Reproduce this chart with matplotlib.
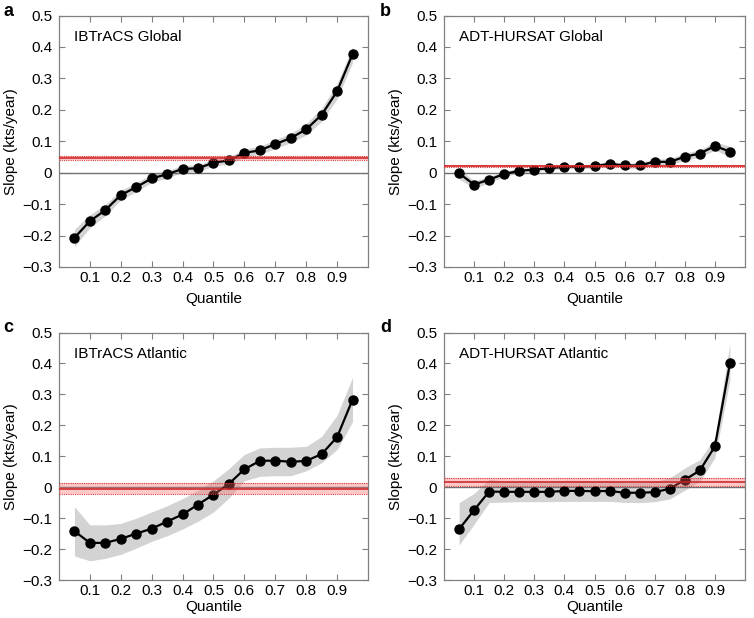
import numpy as np
import matplotlib
matplotlib.use("Agg")
import matplotlib.pyplot as plt

plt.rcParams['font.family'] = ['Liberation Sans', 'DejaVu Sans']

quantiles = [0.05, 0.10, 0.15, 0.20, 0.25, 0.30, 0.35, 0.40, 0.45, 0.50,
             0.55, 0.60, 0.65, 0.70, 0.75, 0.80, 0.85, 0.90, 0.95]

# Panel a: IBTrACS Global
a_slope = [-0.207, -0.154, -0.119, -0.071, -0.046, -0.018, -0.005, 0.012, 0.014, 0.032,
           0.039, 0.063, 0.071, 0.091, 0.110, 0.138, 0.184, 0.259, 0.377]
a_lo = [-0.235, -0.175, -0.137, -0.087, -0.060, -0.031, -0.017, 0.001, 0.003, 0.021,
        0.028, 0.051, 0.058, 0.077, 0.095, 0.120, 0.163, 0.235, 0.350]
a_hi = [-0.180, -0.134, -0.101, -0.056, -0.032, -0.005, 0.007, 0.023, 0.025, 0.043,
        0.050, 0.075, 0.084, 0.105, 0.125, 0.156, 0.205, 0.283, 0.400]
a_mean, a_err = 0.046, 0.006

# Panel b: ADT-HURSAT Global
b_slope = [-0.002, -0.038, -0.022, -0.004, 0.006, 0.010, 0.014, 0.019, 0.019, 0.021,
           0.028, 0.023, 0.023, 0.035, 0.034, 0.051, 0.061, 0.085, 0.067]
b_lo = [-0.020, -0.050, -0.032, -0.012, -0.001, 0.004, 0.008, 0.013, 0.013, 0.014,
        0.020, 0.015, 0.014, 0.026, 0.024, 0.040, 0.049, 0.072, 0.050]
b_hi = [0.012, -0.026, -0.012, 0.004, 0.013, 0.016, 0.020, 0.025, 0.025, 0.028,
        0.036, 0.031, 0.032, 0.044, 0.044, 0.062, 0.073, 0.098, 0.084]
b_mean, b_err = 0.020, 0.003

# Panel c: IBTrACS Atlantic
c_slope = [-0.142, -0.180, -0.180, -0.167, -0.150, -0.134, -0.111, -0.088, -0.056, -0.024,
           0.011, 0.058, 0.085, 0.086, 0.082, 0.085, 0.107, 0.162, 0.283]
c_lo = [-0.222, -0.238, -0.230, -0.217, -0.197, -0.175, -0.157, -0.135, -0.110, -0.080,
        -0.035, 0.021, 0.035, 0.037, 0.037, 0.053, 0.079, 0.122, 0.212]
c_hi = [-0.063, -0.122, -0.122, -0.117, -0.100, -0.080, -0.060, -0.037, -0.010, 0.021,
        0.060, 0.106, 0.127, 0.129, 0.129, 0.132, 0.164, 0.233, 0.355]
c_mean, c_err = -0.005, 0.017

# Panel d: ADT-HURSAT Atlantic
d_slope = [-0.136, -0.074, -0.014, -0.015, -0.015, -0.015, -0.015, -0.012, -0.012, -0.013,
           -0.012, -0.018, -0.018, -0.016, -0.005, 0.024, 0.054, 0.132, 0.400]
d_lo = [-0.187, -0.120, -0.050, -0.048, -0.047, -0.047, -0.047, -0.046, -0.046, -0.046,
        -0.046, -0.049, -0.050, -0.047, -0.038, -0.010, 0.019, 0.095, 0.347]
d_hi = [-0.050, -0.020, 0.025, 0.020, 0.020, 0.020, 0.020, 0.022, 0.022, 0.021,
        0.022, 0.016, 0.016, 0.018, 0.030, 0.062, 0.089, 0.160, 0.465]
d_mean, d_err = 0.018, 0.013

titles = ["IBTrACS Global", "ADT-HURSAT Global", "IBTrACS Atlantic", "ADT-HURSAT Atlantic"]
letters = ["a", "b", "c", "d"]
slopes = [a_slope, b_slope, c_slope, d_slope]
los = [a_lo, b_lo, c_lo, d_lo]
his = [a_hi, b_hi, c_hi, d_hi]
means = [a_mean, b_mean, c_mean, d_mean]
errs = [a_err, b_err, c_err, d_err]

W, H = 754, 618
fig = plt.figure(figsize=(W / 100, H / 100), dpi=100)

# axes boxes in pixels: left, top, right, bottom
boxes = [(59, 15.5, 368, 267), (444, 15.5, 745, 267),
         (59, 332.5, 368, 580), (444, 332.5, 745, 580)]
xlabel_pads = [5, 5, 1, 1]
letter_pos = [(3, 12), (380, 12), (3, 327), (380, 327)]

fs = 11
spine_col = '#808080'
for i in range(4):
    l, t, r, b = boxes[i]
    ax = fig.add_axes([l / W, 1 - b / H, (r - l) / W, (b - t) / H])
    ax.fill_between(quantiles, los[i], his[i], color='#d3d3d3', lw=0, zorder=1)
    ax.axhline(0, color='#707070', lw=1.0, zorder=2)
    ax.plot(quantiles, slopes[i], '-o', color='black', lw=1.6, ms=6.5, zorder=3)
    m, e = means[i], errs[i]
    ax.axhspan(m - e, m + e, color='#ff6666', alpha=0.35, lw=0, zorder=4)
    ax.axhline(m, color='#cc1f1f', lw=1.1, zorder=5)
    ax.axhline(m - e, color='#dd3333', lw=0.8, ls=(0, (1, 1)), zorder=5)
    ax.axhline(m + e, color='#dd3333', lw=0.8, ls=(0, (1, 1)), zorder=5)
    ax.set_xlim(0, 1)
    ax.set_ylim(-0.3, 0.5)
    ax.set_xticks([0.1, 0.2, 0.3, 0.4, 0.5, 0.6, 0.7, 0.8, 0.9])
    ax.set_xticklabels(['0.1', '0.2', '0.3', '0.4', '0.5', '0.6', '0.7', '0.8', '0.9'])
    yt = [-0.3, -0.2, -0.1, 0, 0.1, 0.2, 0.3, 0.4, 0.5]
    ax.set_yticks(yt)
    ax.set_yticklabels(['\u22120.3', '\u22120.2', '\u22120.1', '0', '0.1', '0.2', '0.3', '0.4', '0.5'])
    ax.tick_params(direction='in', top=True, right=True, length=4, width=0.8,
                   color=spine_col, labelsize=fs)
    ax.tick_params(axis='x', pad=3)
    ax.tick_params(axis='y', pad=5)
    for s in ax.spines.values():
        s.set_color(spine_col)
        s.set_linewidth(0.9)
    ax.set_xlabel('Quantile', fontsize=fs, labelpad=xlabel_pads[i])
    ax.set_ylabel('Slope (kts/year)', fontsize=fs, labelpad=3)
    ax.text(0.05, 0.915, titles[i], transform=ax.transAxes, fontsize=fs,
            ha='left', va='center')
    lx, ly = letter_pos[i]
    fig.text(lx / W, 1 - ly / H, letters[i], fontsize=13, fontweight='bold',
             ha='left', va='center')

fig.savefig('out.png', dpi=100)
